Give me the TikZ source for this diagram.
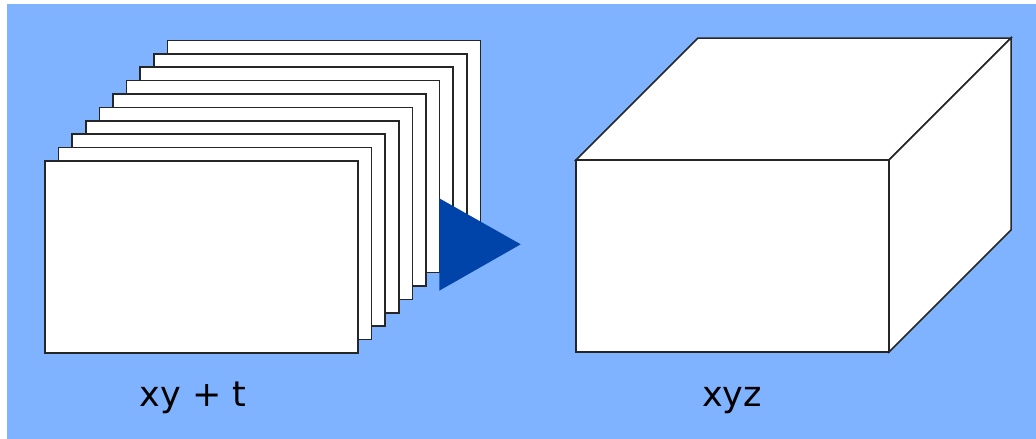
\documentclass[tikz,border=0pt]{standalone}
\usepackage{fontspec}
\setmainfont{DejaVu Sans}
\definecolor{bgblue}{HTML}{80B3FF}
\definecolor{arrowblue}{HTML}{0044AA}
\begin{document}
\begin{tikzpicture}[x=1pt,y=-1pt,
  sheet/.style={draw=black!85, fill=white, line width=1.5pt, line join=miter},
  face/.style={draw=black!85, fill=white, line width=1.5pt, line join=miter},
  label/.style={anchor=base, inner sep=0pt, font=\fontsize{35}{42}\selectfont}]
\useasboundingbox (0,0) rectangle (1036,439);
\fill[white] (0,0) rectangle (1036,439);
\fill[bgblue] (7,4) rectangle (1036,439);
% stack of sheets, back to front
\foreach \i in {9,...,0}{
  \draw[sheet] ({45+13.6*\i},{161-13.4*\i}) rectangle +(313,192);
}
% arrow head
\fill[arrowblue] (439.3,198.3) -- (520.7,244.3) -- (439.3,290.7) -- cycle;
% cube
\draw[face] (576,160) -- (698,38) -- (1011,38) -- (889,160) -- cycle;
\draw[face] (889,160) -- (1011,38) -- (1011,230) -- (889,352) -- cycle;
\draw[face] (576,160) rectangle (889,352);
% labels
\node[label] (lxyt) at (193,406.7) {xy + t};
\node[label] (lxyz) at (732,406.7) {xyz};
\end{tikzpicture}
\end{document}
